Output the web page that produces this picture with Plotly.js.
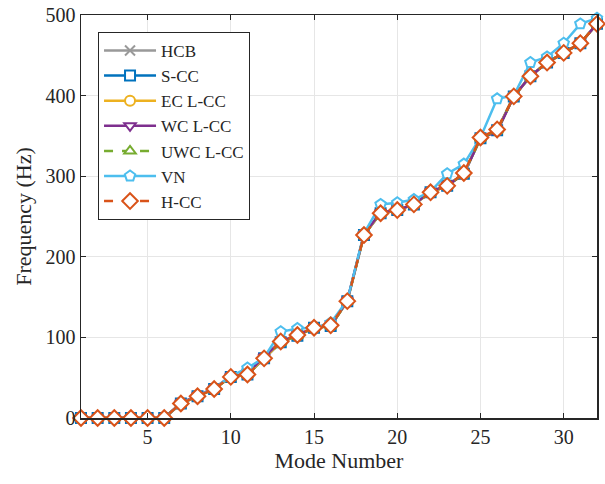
<!DOCTYPE html>
<html>
<head>
<meta charset="utf-8">
<script src="https://cdn.plot.ly/plotly-3.0.1.min.js"></script>
<style>html,body{margin:0;padding:0;background:#fff;}#chart{width:605px;height:484px;}</style>
</head>
<body>
<div id="chart"></div>
<script>
const modes = [1,2,3,4,5,6,7,8,9,10,11,12,13,14,15,16,17,18,19,20,21,22,23,24,25,26,27,28,29,30,31,32];
const seriesNames = ["HCB","S-CC","EC L-CC","WC L-CC","UWC L-CC","VN","H-CC"];
const hcb   = [0,0,0,0,0,0,18,27,36,51,54,74,94,102,112,114,145,227,254,258,265,280,288,303,347,357,399,424,441,453,465,489];
const scc   = [0,0,0,0,0,0,18,27,36,51,54,74,94,102,112,114,145,227,254,258,265,280,288,303,347,357,399,424,441,453,465,489];
const eccc  = [0,0,0,0,0,0,18,27,36,51,54,74,94,102,112,114,145,227,254,258,265,280,288,303,347,357,399,424,441,453,465,489];
const wccc  = [0,0,0,0,0,0,19,28,37,52,55,76,95,103,112,114,146,228,255,258,265,281,289,302,347,355,399,424,441,453,465,489];
const uwccc = [0,0,0,0,0,0,18,27,36,51,54,74,94,102,112,114,145,227,254,258,265,280,288,303,347,357,399,424,441,453,465,489];
const vn    = [0,0,0,0,0,0,18,28,37,52,62,75,107,111,112,118,146,229,265,267,271,281,303,315,348,396,400,441,448,465,489,496];
const hcc   = [0,0,0,0,0,0,18,27,36,51,54,74,95,103,112,115,145,227,254,258,265,280,288,304,348,358,399,424,441,453,465,489];
const xTicks = [5,10,15,20,25,30];
const yTicks = [0,100,200,300,400,500];

const values = [hcb, scc, eccc, wccc, uwccc, vn, hcc];
const colors = ["#999999","#0072BD","#EDB120","#7E2F8E","#77AC30","#4DBEEE","#D95319"];
const symbols = ["x-thin-open","square","circle","triangle-down","triangle-up","pentagon","diamond"];
const dashes = ["solid","solid","solid","solid","dash","solid","dash"];
const sizes = [10,10,10,10,10,11,12];

const traces = values.map((v,i)=>({
  x: modes, y: v, name: seriesNames[i], type: "scatter", mode: "lines+markers",
  cliponaxis: false,
  line: {color: colors[i], width: 2.5, dash: dashes[i]},
  marker: symbols[i]==="x-thin-open"
    ? {symbol: symbols[i], size: sizes[i], color: colors[i], line:{color: colors[i], width: 2}}
    : {symbol: symbols[i], size: sizes[i], color: "#ffffff", line:{color: colors[i], width: 2}}
}));

const fam = "Liberation Serif, Times New Roman, serif";
const ink = "#262626";
const layout = {
  width: 605, height: 484,
  margin: {l: 81, r: 8, t: 15, b: 66},
  paper_bgcolor: "#ffffff", plot_bgcolor: "#ffffff",
  font: {family: fam, color: ink, size: 20},
  showlegend: true,
  legend: {x: 0.033, y: 0.958, xanchor: "left", yanchor: "top", bgcolor: "#ffffff",
           bordercolor: ink, borderwidth: 1, font: {family: fam, size: 17, color: ink},
           tracegroupgap: 0, itemwidth: 52},
  xaxis: {range: [1,32], tickvals: xTicks, ticktext: xTicks.map(String), ticks: "inside", ticklen: 5,
          tickcolor: ink, showline: true, linecolor: ink, linewidth: 1.5, mirror: "ticks",
          showgrid: true, gridcolor: "#e6e6e6", zeroline: false,
          title: {text: "Mode Number", font: {family: fam, size: 22, color: ink}, standoff: 6},
          tickfont: {family: fam, size: 20, color: ink}},
  yaxis: {range: [0,500], tickvals: yTicks, ticktext: yTicks.map(String), ticks: "inside", ticklen: 5,
          tickcolor: ink, showline: true, linecolor: ink, linewidth: 1.5, mirror: "ticks",
          showgrid: true, gridcolor: "#e6e6e6", zeroline: false,
          title: {text: "Frequency (Hz)", font: {family: fam, size: 22, color: ink}, standoff: 8},
          tickfont: {family: fam, size: 20, color: ink}}
};
Plotly.newPlot("chart", traces, layout, {displayModeBar: false, staticPlot: true});
</script>
</body>
</html>
